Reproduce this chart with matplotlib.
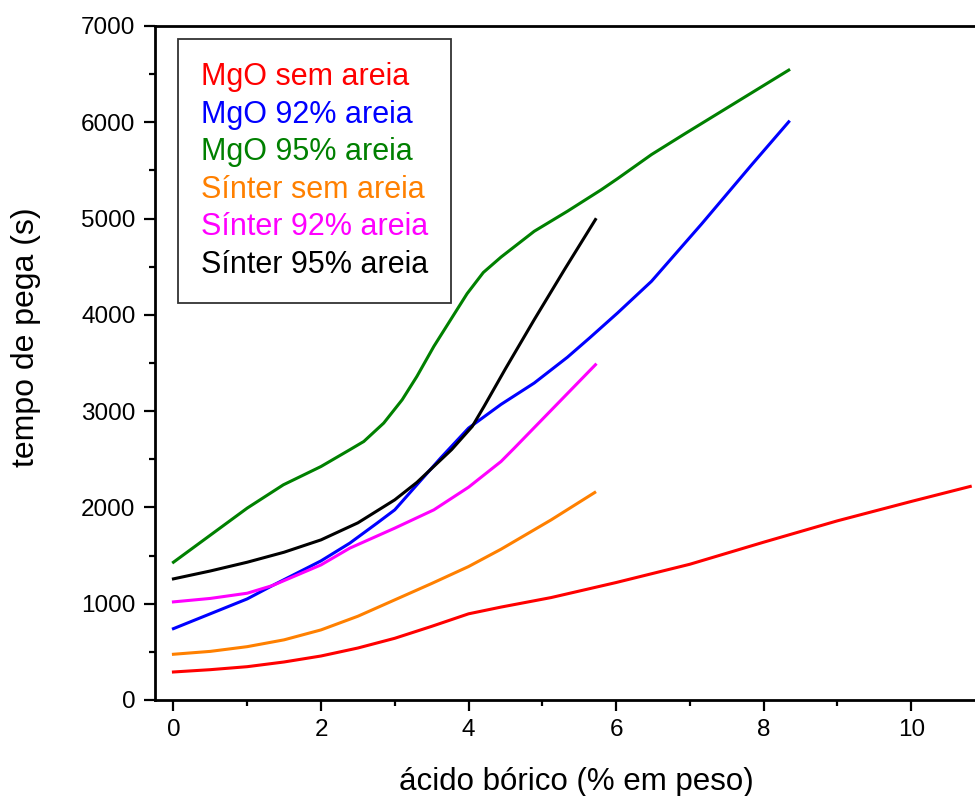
import matplotlib
matplotlib.use("Agg")
import matplotlib.pyplot as plt
from matplotlib.ticker import MultipleLocator

plt.rcParams['font.family'] = ['Liberation Sans', 'DejaVu Sans']

# valores
x_mgo_0 = [0, 0.5, 1, 1.5, 2, 2.5, 3, 3.5, 4, 4.44, 5.12, 6, 7, 8, 9, 10, 10.8]
y_mgo_0 = [291, 315, 346, 395, 457, 540, 641, 765, 895, 965, 1064, 1220, 1410, 1639, 1861, 2062, 2218]

x_mgo_92 = [0, 1, 1.34, 2, 2.39, 2.76, 3, 3.34, 3.62, 4, 4.44, 4.89, 5.34, 5.64, 6.02, 6.48, 7.16,
            7.84, 8.34]
y_mgo_92 = [741, 1050, 1188, 1445, 1629, 1837, 1975, 2270, 2512, 2824, 3070, 3292, 3560, 3760, 4020,
            4349, 4945, 5561, 6005]

x_mgo_95 = [0, 1, 1.49, 2, 2.39, 2.58, 2.85, 3.1, 3.3, 3.53, 3.98, 4.2, 4.44, 4.89, 5.34, 5.8, 6.02,
            6.48, 6.93, 8.34]
y_mgo_95 = [1431, 1993, 2235, 2425, 2599, 2685, 2876, 3118, 3361, 3673, 4220, 4440, 4600, 4868, 5076,
            5300, 5415, 5665, 5880, 6542]

x_sin_0 = [0, 0.5, 1, 1.5, 2, 2.5, 3, 3.5, 4, 4.44, 5.12, 5.71]
y_sin_0 = [475, 505, 554, 625, 728, 870, 1040, 1210, 1386, 1566, 1871, 2155]

x_sin_92 = [0, 0.5, 1, 1.34, 2, 2.39, 3, 3.53, 4, 4.44, 4.62, 5.72]
y_sin_92 = [1019, 1055, 1109, 1188, 1403, 1577, 1785, 1975, 2210, 2477, 2616, 3482]

x_sin_95 = [0, 0.5, 1, 1.5, 2, 2.5, 3, 3.3, 3.77, 4.05, 4.21, 4.5, 4.89, 5.3, 5.72]
y_sin_95 = [1258, 1340, 1431, 1535, 1663, 1840, 2079, 2260, 2600, 2841, 3049, 3440, 3950, 4470, 4990]

series = [
    (x_mgo_0, y_mgo_0, '#FF0000', 'MgO sem areia'),
    (x_mgo_92, y_mgo_92, '#0000FF', 'MgO 92% areia'),
    (x_mgo_95, y_mgo_95, '#008000', 'MgO 95% areia'),
    (x_sin_0, y_sin_0, '#FF8000', 'Sínter sem areia'),
    (x_sin_92, y_sin_92, '#FF00FF', 'Sínter 92% areia'),
    (x_sin_95, y_sin_95, '#000000', 'Sínter 95% areia'),
]

fig = plt.figure(figsize=(9.75, 7.96), dpi=100)
# eixo passa da borda direita, como no original
ax = fig.add_axes([155 / 975, 96 / 796, 830 / 975, 674 / 796])

for x, y, c, lab in series:
    ax.plot(x, y, color=c, lw=2.2, label=lab, solid_joinstyle='round')

ax.set_xlim(-0.25, 11)
ax.set_ylim(0, 7000)
ax.xaxis.set_major_locator(MultipleLocator(2))
ax.xaxis.set_minor_locator(MultipleLocator(1))
ax.yaxis.set_major_locator(MultipleLocator(1000))
ax.yaxis.set_minor_locator(MultipleLocator(500))
ax.tick_params(which='both', direction='out', width=1.6, labelsize=17.5,
               top=False, right=False)
ax.tick_params(which='major', length=8, pad=6)
ax.tick_params(which='minor', length=4)
for s in ax.spines.values():
    s.set_linewidth(2)
ax.spines['right'].set_visible(False)

ax.set_xlabel('ácido bórico (% em peso)', fontsize=22.5)
ax.xaxis.set_label_coords(0.508, -0.0994)
ax.set_ylabel('tempo de pega (s)', fontsize=23)
ax.yaxis.set_label_coords(-0.137, 0.539)

leg = ax.legend(loc='upper left', bbox_to_anchor=(23 / 830, 661 / 674),
                fontsize=22, handlelength=0, handletextpad=0,
                labelcolor='linecolor', fancybox=False, borderpad=0.75,
                labelspacing=0.25, borderaxespad=0, framealpha=1)
for h in leg.legend_handles:
    h.set_visible(False)
leg.get_frame().set_edgecolor('#333333')
leg.get_frame().set_linewidth(1.3)

fig.savefig('out.png', dpi=100)
